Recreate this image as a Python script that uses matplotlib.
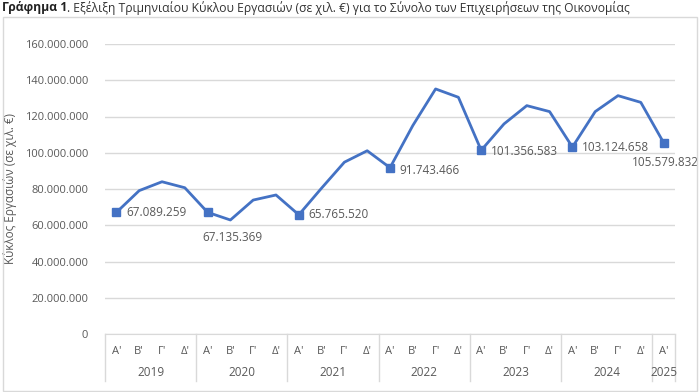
import matplotlib
matplotlib.use("Agg")
import matplotlib.pyplot as plt
import matplotlib.transforms as mtransforms
from matplotlib.patches import Rectangle
from matplotlib.ticker import FuncFormatter

plt.rcParams['font.family'] = ['Open Sans', 'Noto Sans', 'DejaVu Sans']

years = ["2019", "2020", "2021", "2022", "2023", "2024", "2025"]
quarters = ["Α'", "Β'", "Γ'", "Δ'"] * 6 + ["Α'"]
values = [67089259, 79100000, 84000000, 80700000,
          67135369, 62900000, 73900000, 76700000,
          65765520, 80500000, 94800000, 101100000,
          91743466, 115000000, 135200000, 130600000,
          101356583, 115900000, 126000000, 122700000,
          103124658, 122700000, 131500000, 127800000,
          105579832]
labelled = [0, 4, 8, 12, 16, 20, 24]

line_color = "#4472C4"
text_color = "#595959"

fig = plt.figure(figsize=(7, 3.92), dpi=100)
W, H = 700, 392
# outer chart border
fig.patches.append(Rectangle((3 / W, 1 - 391 / H), 694 / W, 374 / H, transform=fig.transFigure,
                             fill=False, edgecolor="#d9d9d9", linewidth=1))

ax = fig.add_axes([105 / W, 1 - 334 / H, 570 / W, 290 / H])
x = list(range(len(values)))
ax.plot(x, values, color=line_color, linewidth=2.0, zorder=3)
ax.plot([x[i] for i in labelled], [values[i] for i in labelled], linestyle="none",
        marker="s", markersize=6, color=line_color, zorder=4)

def fmt(v):
    return f"{int(round(v)):,}".replace(",", ".")

offsets = {0: (7, 0, "left"), 4: (-4, -18, "left"),
           8: (7, 0, "left"), 12: (7, -2, "left"),
           16: (7, -1, "left"), 20: (7, 0, "left"),
           24: (1, -14, "center")}
for i in labelled:
    dx, dy, ha = offsets[i]
    ax.annotate(fmt(values[i]), (x[i], values[i]), xytext=(dx, dy), textcoords="offset points",
                ha=ha, va="center", fontsize=8.5, color=text_color)

ax.set_ylim(0, 160000000)
ax.set_yticks(range(0, 160000001, 20000000))
ax.yaxis.set_major_formatter(FuncFormatter(lambda v, p: fmt(v)))
ax.set_xlim(-0.5, len(values) - 0.5)
ax.set_xticks(x)
ax.set_xticklabels(quarters)
ax.tick_params(axis="x", length=0, pad=9, labelsize=8, colors=text_color)
ax.tick_params(axis="y", length=0, pad=12, labelsize=8, colors=text_color)
ax.grid(axis="y", color="#d9d9d9", linewidth=1)
ax.set_axisbelow(True)
for s in ["top", "right", "left"]:
    ax.spines[s].set_visible(False)
ax.spines["bottom"].set_color("#d9d9d9")

trans = mtransforms.blended_transform_factory(ax.transData, ax.transAxes)
bottom = -47 / 290
bounds = [-0.5, 3.5, 7.5, 11.5, 15.5, 19.5, 23.5, 24.5]
for b in bounds:
    ax.plot([b, b], [0, bottom], color="#d9d9d9", linewidth=1, transform=trans, clip_on=False)
for k, yr in enumerate(years):
    cx = (bounds[k] + bounds[k + 1]) / 2
    ax.text(cx, -38 / 290, yr, transform=trans, ha="center", va="center", fontsize=8.5, color=text_color)

ax.set_ylabel("Κύκλος Εργασιών (σε χιλ. €)", fontsize=8.5, color=text_color)
ax.yaxis.set_label_coords(-88 / 570, 0.5)

t1 = fig.text(2 / W, 1 - 8 / H, "Γράφημα 1", fontsize=8.7, fontweight="bold", color="#222222",
              ha="left", va="center")
ax.annotate(". Εξέλιξη Τριμηνιαίου Κύκλου Εργασιών (σε χιλ. €) για το Σύνολο των Επιχειρήσεων της Οικονομίας",
            xy=(1, 0.5), xycoords=t1, xytext=(0, 0), textcoords="offset points",
            fontsize=8.7, color="#333333", ha="left", va="center", annotation_clip=False)

fig.savefig("out.png", dpi=100)
